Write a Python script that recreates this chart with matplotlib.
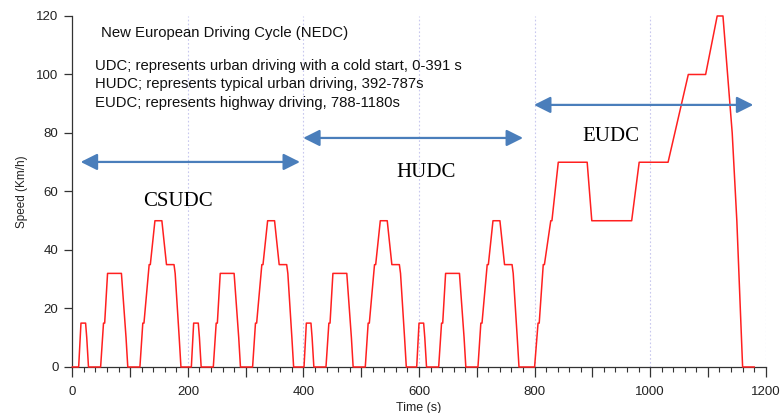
import numpy as np
import matplotlib as mpl
mpl.use('agg')
import matplotlib.pyplot as plt
from matplotlib.patches import FancyArrowPatch
from matplotlib.ticker import MultipleLocator, FuncFormatter

## ECE-15 urban cycle (one repetition, 195 s)
ece_t = [0, 11, 15, 23, 25, 28, 49, 54, 56, 61, 85, 93, 96, 117, 122, 124,
         133, 135, 143, 155, 163, 176, 178, 185, 188, 195]
ece_v = [0, 0, 15, 15, 10, 0, 0, 15, 15, 32, 32, 10, 0, 0, 15, 15,
         35, 35, 50, 50, 35, 35, 32, 10, 0, 0]
ece_starts = [0, 195, 390, 585]

## extra-urban part
eudc_t = [780, 800, 806, 808, 815, 817, 828, 830, 841, 891, 899, 968, 981,
          1031, 1066, 1096, 1116, 1126, 1142, 1150, 1160, 1180]
eudc_v = [0, 0, 15, 15, 35, 35, 50, 50, 70, 70, 50, 50, 70,
          70, 100, 100, 120, 120, 80, 50, 0, 0]

time = []
speed = []
for s in ece_starts:
    time += [s + t for t in ece_t]
    speed += ece_v
time += eudc_t
speed += eudc_v

## arrows: (start, end, height) and phase labels
arrows = [(14.5, 394, 70.1), (399.5, 780, 78.3), (799, 1178.5, 89.6)]
phase_labels = ['CSUDC', 'HUDC', 'EUDC']
phase_pos = [(183.5, 55.2), (612.5, 65.0), (931.6, 77.4)]

info_title = 'New European Driving Cycle (NEDC)'
info_lines = ['UDC; represents urban driving with a cold start, 0-391 s',
              'HUDC; represents typical urban driving, 392-787s',
              'EUDC; represents highway driving, 788-1180s']

plt.rcParams['font.family'] = ['Liberation Sans', 'DejaVu Sans']

fig = plt.figure(figsize=(7.8, 4.13), dpi=100)
ax = fig.add_axes([0.0927, 0.1114, 0.889, 0.8499])

for x in range(200, 1201, 200):
    ax.axvline(x, color='#c8c8ee', lw=0.8, ls=(0, (1.5, 2)), zorder=0)

ax.plot(time, speed, color='#ff2020', lw=1.1, clip_on=False, zorder=3)

ax.set_xlim(0, 1200)
ax.set_ylim(0, 120)
for sp in ['top', 'right']:
    ax.spines[sp].set_visible(False)
for sp in ['left', 'bottom']:
    ax.spines[sp].set_color('#333333')
    ax.spines[sp].set_linewidth(0.9)

ax.xaxis.set_major_locator(MultipleLocator(100))
ax.xaxis.set_minor_locator(MultipleLocator(20))
ax.xaxis.set_major_formatter(FuncFormatter(lambda v, p: '%d' % v if v % 200 == 0 else ''))
ax.yaxis.set_major_locator(MultipleLocator(20))
ax.tick_params(axis='x', which='major', length=7.5, width=0.9, color='#333333',
               labelsize=9.5, labelcolor='#222222', pad=6)
ax.tick_params(axis='x', which='minor', length=3.5, width=0.8, color='#333333')
ax.tick_params(axis='y', which='major', length=6, width=0.9, color='#333333',
               labelsize=9.5, labelcolor='#222222', pad=4)

ax.set_xlabel('Time (s)', fontsize=9, color='#222222', labelpad=3)
ax.set_ylabel('Speed (Km/h)', fontsize=8.5, color='#222222', labelpad=6)

for (x0, x1, y), lab, (lx, ly) in zip(arrows, phase_labels, phase_pos):
    arr = FancyArrowPatch((x0, y), (x1, y),
                          arrowstyle='<|-|>,head_length=10,head_width=5',
                          mutation_scale=1, color='#4a7ebb', lw=1.6,
                          shrinkA=0, shrinkB=0, zorder=4)
    ax.add_patch(arr)
    ax.text(lx, ly, lab, ha='center', va='baseline', fontsize=15,
            family=['Liberation Serif', 'DejaVu Serif'], color='black')

ax.text(49, 112.8, info_title, fontsize=10.7, color='#111111', va='baseline')
for i, line in enumerate(info_lines):
    ax.text(39.5, 101.7 - i * 6.4, line, fontsize=10.7, color='#111111', va='baseline')

fig.savefig('out.png', dpi=100)
